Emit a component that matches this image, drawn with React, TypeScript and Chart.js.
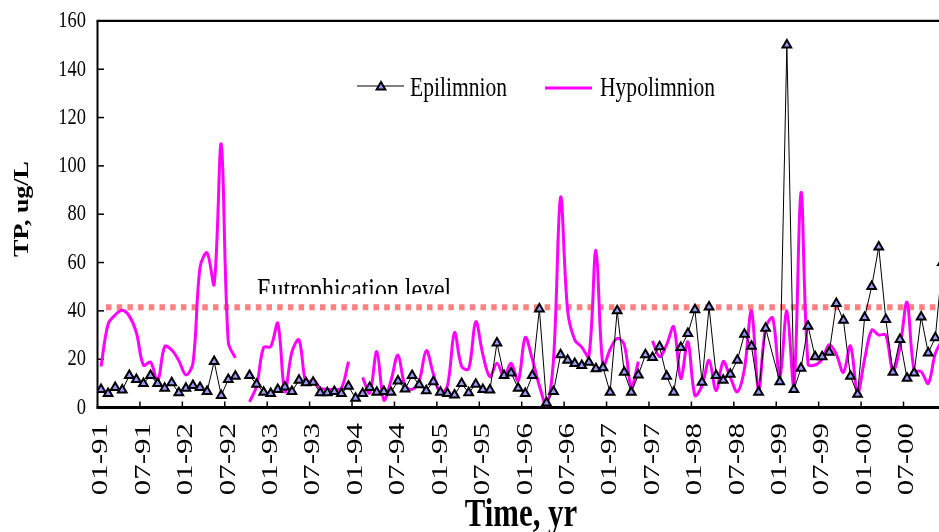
import React, { useEffect, useRef } from 'react';
import { Chart, registerables } from 'chart.js';

Chart.register(...registerables);

// ---------- data (months counted from Jan 1991, one sample per month) ----------
const TICK_MONTHS = [0, 6, 12, 18, 24, 30, 36, 42, 48, 54, 60, 66, 72, 78, 84, 90, 96, 102, 108, 114];
const TICK_LABELS = ['01-91', '07-91', '01-92', '07-92', '01-93', '07-93', '01-94', '07-94', '01-95', '07-95',
  '01-96', '07-96', '01-97', '07-97', '01-98', '07-98', '01-99', '07-99', '01-00', '07-00'];
const Y_TICKS = [0, 20, 40, 60, 80, 100, 120, 140, 160];

const epilimnion: (number | null)[] = [
  7.4, 5.8, 8.3, 7.2, 13.2, 11.6, 9.9, 13.2, 9.9, 8.0, 10.2, 6.1,
  8.0, 9.1, 8.3, 6.6, 19.0, 5.0, 11.6, 12.9, null, 13.2, 9.6, 6.3,
  5.8, 7.4, 8.5, 6.6, 11.3, 10.2, 10.5, 6.1, 6.1, 6.6, 5.8, 8.8,
  3.8, 5.8, 8.3, 6.3, 6.6, 6.3, 11.0, 7.7, 13.2, 9.4, 6.9, 10.7,
  6.3, 5.8, 5.2, 9.9, 6.1, 9.6, 7.4, 7.2, 26.7, 13.2, 14.3, 8.0,
  5.8, 13.2, 40.8, 1.9, 6.6, 21.8, 19.6, 18.2, 17.4, 18.7, 16.0, 16.5,
  6.3, 40.0, 14.6, 6.3, 13.5, 21.8, 20.7, 25.1, 12.9, 6.3, 24.8, 30.6,
  40.5, 10.5, 41.6, 13.2, 11.3, 13.8, 19.6, 30.3, 25.3, 6.3, 32.8, null,
  10.7, 150, 7.4, 16.2, 33.6, 21.0, 21.0, 22.9, 43.0, 36.1, 12.9, 5.5,
  37.2, 50.1, 66.4, 36.4, 14.6, 28.1, 12.1, 14.3, 37.5, 22.6, 28.9, 60,
];
// months without a sample where the epilimnion line still continues
const epiUnsampled = [95];

const hypolimnion: (number | null)[] = [
  17, 34.5, 38.3, 40.2, 37.8, 31, 17.5, 18.8, 10.7, 25.2, 23.8, 19.4,
  13.5, 18.3, 58, 64, 51, 109, 27, 20.5, null, 2.3, 9, 24.9,
  25.2, 34.8, 6.5, 23, 28, 10, 11.5, 8, 7.5, 7.5, 8, 19,
  null, 12.5, 6, 23.1, 3.1, 11, 21.7, 9, 7.5, 11, 23.5, 14,
  6, 9, 31, 17, 16, 35.5, 22, 12.7, 18.3, 12.7, 18.3, 11,
  29, 20, 9, 1, 20, 87, 40, 28, 25, 21, 65, 17,
  24, 28.6, 26, 8.6, 19, null, 27.6, 21, 26, 33.4, 12, 27.2,
  5, 9, 19.5, 7, 19, 12.5, 6.5, 16, 40, 7, 33, 37,
  12, 40, 9, 89, 18, 17.6, 20, 26, 22, 14.5, 25.5, 6,
  20, 32, 30, 30, 15, 25, 43.5, 15.5, 14.8, 10, 22.4, 28,
];

const EUTROPHICATION_LEVEL = 41.5;
const EUTRO_FROM_MONTH = 1.2;
const X_MAX = 119.02;

// ---------- styling ----------
const SERIF = '"Liberation Serif", "Times New Roman", serif';
const SX = 0.77; // horizontal text compression seen in the reference
const EPI_FILL = '#9999FF';
const HYPO_COLOR = '#FF00FF';
const EUTRO_COLOR = '#FF8080';

function drawText(ctx: CanvasRenderingContext2D, text: string, x: number, y: number,
  font: string, align: CanvasTextAlign, baseline: CanvasTextBaseline, rotate = false) {
  ctx.save();
  ctx.translate(x, y);
  ctx.scale(SX, 1);
  if (rotate) ctx.rotate(-Math.PI / 2);
  ctx.font = font;
  ctx.textAlign = align;
  ctx.textBaseline = baseline;
  ctx.fillStyle = '#000';
  ctx.fillText(text, 0, 0);
  ctx.restore();
}

function strokeLine(ctx: CanvasRenderingContext2D, x1: number, y1: number, x2: number, y2: number) {
  ctx.beginPath();
  ctx.moveTo(x1, y1);
  ctx.lineTo(x2, y2);
  ctx.stroke();
}

function drawTriangle(ctx: CanvasRenderingContext2D, cx: number, cy: number, r: number) {
  ctx.beginPath();
  for (let k = 0; k < 3; k++) {
    const ang = (k * 2 * Math.PI) / 3;
    const px = cx + Math.sin(ang) * r;
    const py = cy - Math.cos(ang) * r;
    if (k === 0) ctx.moveTo(px, py); else ctx.lineTo(px, py);
  }
  ctx.closePath();
  ctx.fillStyle = EPI_FILL;
  ctx.fill();
  ctx.lineWidth = 2;
  ctx.strokeStyle = '#000';
  ctx.stroke();
}

const decorPlugin = {
  id: 'decor',
  beforeDatasetsDraw(chart: any) {
    const { ctx, chartArea: a, scales } = chart;
    const x = scales.x, y = scales.y;
    ctx.save();
    ctx.strokeStyle = '#000';
    ctx.lineWidth = 1.5;
    Y_TICKS.forEach((v) => {
      if (v === Y_TICKS[0] || v === Y_TICKS[Y_TICKS.length - 1]) return;
      const py = y.getPixelForValue(v);
      strokeLine(ctx, a.left, py, a.left + 6.5, py);
    });
    TICK_MONTHS.forEach((m) => {
      if (m === 0) return;
      const px = x.getPixelForValue(m);
      strokeLine(ctx, px, a.bottom, px, a.bottom - 6);
    });
    ctx.lineWidth = 2;
    strokeLine(ctx, a.left, a.top, a.left, a.bottom);
    ctx.lineWidth = 2.3;
    strokeLine(ctx, a.left - 1, a.top, a.right, a.top);
    ctx.lineWidth = 3;
    strokeLine(ctx, a.left - 1, a.bottom, a.right, a.bottom);
    ctx.restore();
  },
  afterDraw(chart: any) {
    const { ctx, scales } = chart;
    const x = scales.x, y = scales.y;
    Y_TICKS.forEach((v) => {
      drawText(ctx, String(v), 86, y.getPixelForValue(v), `24px ${SERIF}`, 'right', 'middle');
    });
    TICK_MONTHS.forEach((m, i) => {
      drawText(ctx, TICK_LABELS[i], x.getPixelForValue(m + 0.5), 423, `31px ${SERIF}`, 'right', 'middle', true);
    });
    drawText(ctx, 'Time, yr', 521, 526, `bold 40px ${SERIF}`, 'center', 'alphabetic');
    drawText(ctx, 'TP, ug/L', 23, 209, `bold 26px ${SERIF}`, 'center', 'middle', true);

    ctx.save();
    ctx.strokeStyle = '#000';
    ctx.lineWidth = 1;
    strokeLine(ctx, 357, 86, 404, 86);
    drawTriangle(ctx, 381, 87, 5);
    ctx.strokeStyle = HYPO_COLOR;
    ctx.lineWidth = 3;
    strokeLine(ctx, 545, 88, 592, 88);
    ctx.restore();
    drawText(ctx, 'Epilimnion', 410, 89, `28px ${SERIF}`, 'left', 'middle');
    drawText(ctx, 'Hypolimnion', 600, 89, `28px ${SERIF}`, 'left', 'middle');

    ctx.save();
    ctx.beginPath();
    ctx.rect(0, 0, chart.width, 294);
    ctx.clip();
    drawText(ctx, 'Eutrophication level', 257, 300, `31px ${SERIF}`, 'left', 'alphabetic');
    ctx.restore();
  },
};

export default function App() {
  const canvasRef = useRef<HTMLCanvasElement>(null);

  useEffect(() => {
    const canvas = canvasRef.current;
    if (!canvas) return;

    const epiPoints: { x: number; y: number | null }[] = [];
    epilimnion.forEach((v, i) => {
      if (epiUnsampled.includes(i)) return;
      epiPoints.push({ x: i + 0.5, y: v });
    });
    const hypoPoints = hypolimnion.map((v, i) => ({ x: i + 0.5, y: v }));
    const eutroPoints = [
      { x: EUTRO_FROM_MONTH, y: EUTROPHICATION_LEVEL },
      { x: X_MAX, y: EUTROPHICATION_LEVEL },
    ];

    const chart = new Chart(canvas, {
      type: 'line',
      data: {
        datasets: [
          {
            label: 'Epilimnion',
            data: epiPoints as any,
            order: 1,
            borderColor: '#000',
            borderWidth: 1,
            tension: 0,
            spanGaps: false,
            pointStyle: 'triangle',
            pointRadius: 5,
            pointBorderWidth: 2,
            pointBackgroundColor: EPI_FILL,
            pointBorderColor: '#000',
          },
          {
            label: 'Hypolimnion',
            data: hypoPoints as any,
            order: 2,
            borderColor: HYPO_COLOR,
            borderWidth: 3,
            tension: 0.35,
            spanGaps: false,
            pointRadius: 0,
          },
          {
            label: 'Eutrophication level',
            data: eutroPoints as any,
            order: 3,
            borderColor: EUTRO_COLOR,
            borderWidth: 6,
            borderDash: [5.5, 5.2],
            borderCapStyle: 'butt',
            pointRadius: 0,
            tension: 0,
          },
        ],
      },
      options: {
        responsive: false,
        animation: false,
        devicePixelRatio: 1,
        events: [],
        layout: { autoPadding: false, padding: { left: 97.5, right: 0, top: 20.9, bottom: 124.5 } },
        plugins: { legend: { display: false }, tooltip: { enabled: false }, title: { display: false } },
        scales: {
          x: { type: 'linear', min: 0, max: X_MAX, display: false },
          y: { type: 'linear', min: 0, max: 160, display: false },
        },
      },
      plugins: [decorPlugin],
    });

    return () => chart.destroy();
  }, []);

  return (
    <div style={{ position: 'fixed', left: 0, top: 0, width: 939, height: 532, background: '#fff' }}>
      <canvas ref={canvasRef} width={939} height={532} style={{ display: 'block', width: 939, height: 532 }} />
    </div>
  );
}
